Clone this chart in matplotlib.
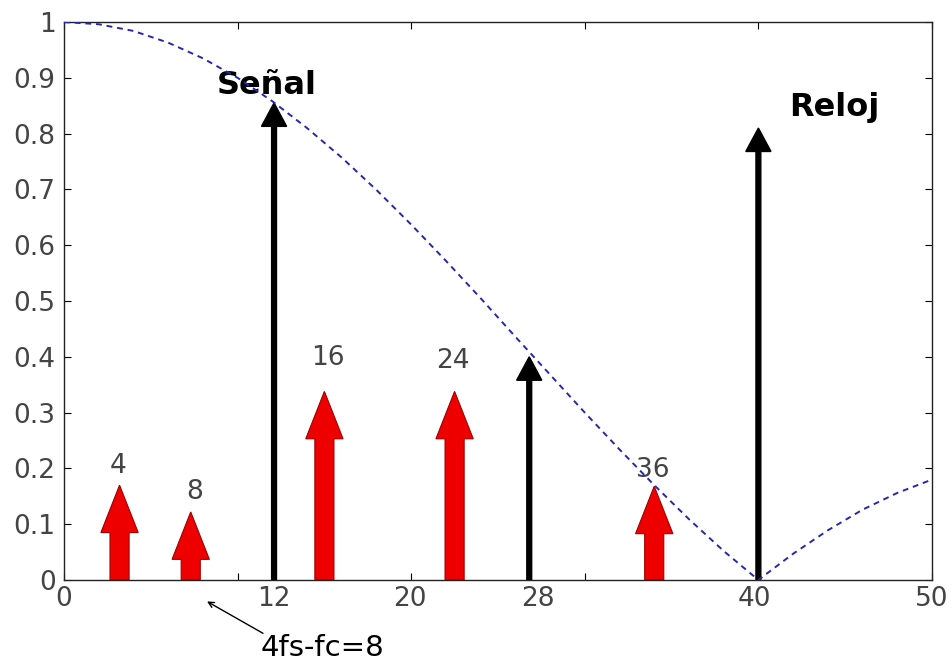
import matplotlib
matplotlib.use("Agg")
import matplotlib.pyplot as plt
from matplotlib.patches import FancyArrow

# curva envolvente
curva_x = [0, 2, 4, 6, 8, 10, 12, 14, 16, 18, 20, 22, 24, 26, 28, 30, 32, 34, 36, 38, 40, 42, 44, 46, 48, 50]
curva_y = [1.0, 0.996, 0.984, 0.963, 0.935, 0.900, 0.858, 0.810, 0.757, 0.699, 0.637, 0.572, 0.505,
           0.436, 0.368, 0.300, 0.234, 0.170, 0.109, 0.052, 0.0, 0.047, 0.089, 0.126, 0.156, 0.180]

# flechas negras (senal y reloj)
negras_x = [12.1, 26.8, 40.0]
negras_h = [0.855, 0.40, 0.81]

# flechas rojas (productos)
rojas_x = [3.2, 7.3, 15.0, 22.5, 34.0]
rojas_h = [0.17, 0.122, 0.338, 0.338, 0.168]
rojas_txt = ['4', '8', '16', '24', '36']
rojas_txt_x = [3.1, 7.5, 15.2, 22.4, 33.9]
rojas_txt_y = [0.205, 0.157, 0.398, 0.392, 0.198]

# etiquetas del eje x
xt_pos = [0, 12.1, 19.9, 27.3, 39.8, 50]
xt_lab = ['0', '12', '20', '28', '40', '50']

yt_pos = [0, 0.1, 0.2, 0.3, 0.4, 0.5, 0.6, 0.7, 0.8, 0.9, 1.0]
yt_lab = ['0', '0.1', '0.2', '0.3', '0.4', '0.5', '0.6', '0.7', '0.8', '0.9', '1']

num_font = dict(fontsize=19, color='#444444', family='DejaVu Sans')

fig = plt.figure(figsize=(9.51, 6.63), dpi=100)
ax = fig.add_axes([0.0673, 0.1252, 0.9127, 0.8416])
ax.set_xlim(0, 50)
ax.set_ylim(0, 1)

ax.plot(curva_x, curva_y, color='#2626b0', lw=1.4, ls=(0, (3, 2.5)), zorder=4)

for x, h in zip(negras_x, negras_h):
    ax.add_patch(FancyArrow(x, 0, 0, h, width=0.28, head_width=1.45, head_length=0.042,
                            length_includes_head=True, color='black', zorder=3))

for x, h in zip(rojas_x, rojas_h):
    ax.add_patch(FancyArrow(x, 0, 0, h, width=1.1, head_width=2.15, head_length=0.085,
                            length_includes_head=True, facecolor='#ee0000',
                            edgecolor='#a00000', lw=0.8, zorder=3))

for t, x, y in zip(rojas_txt, rojas_txt_x, rojas_txt_y):
    ax.text(x, y, t, ha='center', va='center', **num_font)

ax.text(11.7, 0.887, 'Señal', ha='center', va='center', fontsize=23, fontweight='bold',
        family='DejaVu Sans')
ax.text(44.4, 0.846, 'Reloj', ha='center', va='center', fontsize=23, fontweight='bold',
        family='DejaVu Sans')

# ejes estilo matlab
ax.set_xticks([0, 10, 20, 30, 40, 50])
ax.set_xticklabels([])
ax.set_yticks(yt_pos)
ax.set_yticklabels(yt_lab, **num_font)
ax.tick_params(direction='in', top=True, right=True, length=5, width=0.8, pad=6)
for s in ax.spines.values():
    s.set_linewidth(1.0)
    s.set_color('#222222')

for p, t in zip(xt_pos, xt_lab):
    ax.text(p, -0.034, t, ha='center', va='center', clip_on=False, **num_font)

ax.annotate('', xy=(8.1, -0.036), xytext=(11.6, -0.098),
            arrowprops=dict(arrowstyle='->', color='black', lw=1.0),
            annotation_clip=False)
ax.text(14.9, -0.121, '4fs-fc=8', ha='center', va='center', fontsize=21,
        family='DejaVu Sans', clip_on=False)

fig.savefig('out.png', dpi=100)
